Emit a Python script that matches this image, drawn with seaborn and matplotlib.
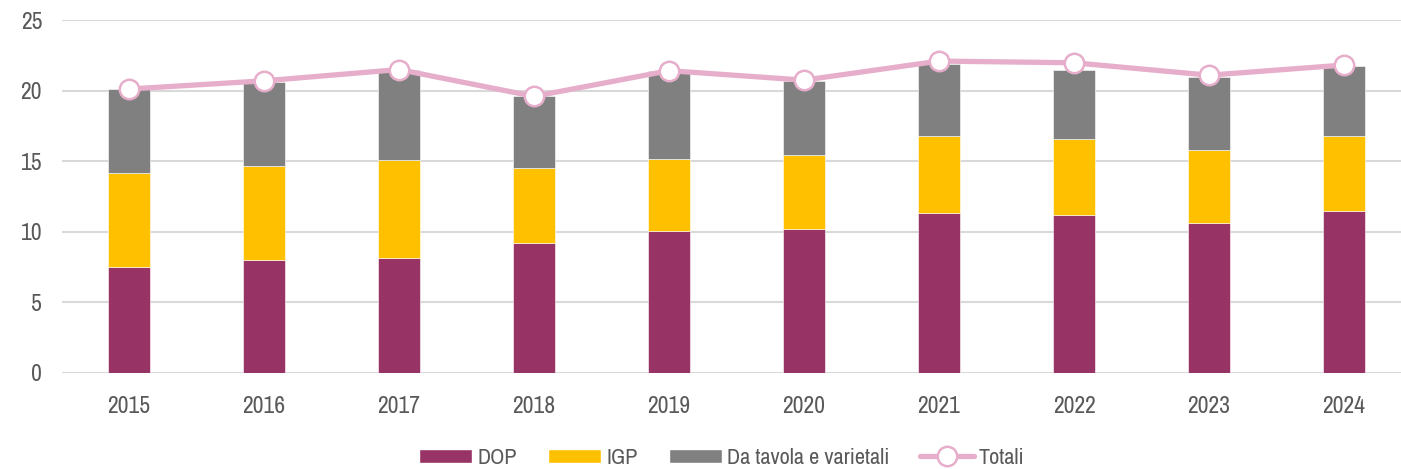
import numpy as np
import pandas as pd
import matplotlib
matplotlib.use("Agg")
import matplotlib.pyplot as plt
from matplotlib.patches import Patch
from matplotlib.lines import Line2D
import seaborn as sns

# values
years = ["2015", "2016", "2017", "2018", "2019", "2020", "2021", "2022", "2023", "2024"]
dop = [7.50, 7.99, 8.17, 9.20, 10.08, 10.18, 11.32, 11.17, 10.65, 11.48]
igp = [6.67, 6.68, 6.90, 5.30, 5.06, 5.25, 5.45, 5.41, 5.18, 5.29]
tavola = [5.93, 5.93, 6.43, 5.10, 6.25, 5.25, 5.09, 4.87, 5.17, 5.01]
totali = [20.12, 20.70, 21.50, 19.60, 21.42, 20.75, 22.10, 21.98, 21.10, 21.82]

c_dop = "#983366"
c_igp = "#FFC000"
c_tav = "#808080"
c_tot = "#E6AECB"
c_text = "#595959"

sns.set_theme(style="white")
plt.rcParams['font.family'] = ['Arial Narrow', 'Liberation Sans Narrow', 'Archivo Narrow', 'DejaVu Sans']

df = pd.DataFrame({"anno": years, "DOP": dop, "IGP": igp, "Tavola": tavola, "Totali": totali})
df["base_igp"] = df["DOP"]
df["base_tav"] = df["DOP"] + df["IGP"]

fig = plt.figure(figsize=(14.01, 4.69), dpi=100)
ax = fig.add_axes([0.0439, 0.205, 0.9636, 0.752])

bw = 0.31
sns.barplot(data=df, x="anno", y="DOP", color=c_dop, width=bw, saturation=1, ax=ax,
            edgecolor="white", linewidth=0.4, zorder=3)
sns.barplot(data=df, x="anno", y="IGP", bottom=df["base_igp"], color=c_igp, width=bw,
            saturation=1, ax=ax, edgecolor="white", linewidth=0.4, zorder=3)
sns.barplot(data=df, x="anno", y="Tavola", bottom=df["base_tav"], color=c_tav, width=bw,
            saturation=1, ax=ax, edgecolor="white", linewidth=0.4, zorder=3)
sns.pointplot(data=df, x="anno", y="Totali", color=c_tot, markers="o", linestyles="-",
              errorbar=None, ax=ax, zorder=5)
for ln in ax.lines:
    ln.set_linewidth(3.8)
    ln.set_markersize(14)
    ln.set_markerfacecolor("white")
    ln.set_markeredgecolor(c_tot)
    ln.set_markeredgewidth(1.8)
    ln.set_zorder(5)

ax.set_ylim(0, 25)
ax.set_xlim(-0.5, 9.5)
ax.set_yticks([0, 5, 10, 15, 20, 25])
ax.yaxis.grid(True, color="#D9D9D9", linewidth=1.5, zorder=0)
ax.set_axisbelow(True)
for s in ax.spines.values():
    s.set_visible(False)
ax.set_xlabel("")
ax.set_ylabel("")
ax.tick_params(axis="y", length=0, pad=14, labelsize=17, labelcolor=c_text)
ax.tick_params(axis="x", length=0, pad=17, labelsize=17, labelcolor=c_text)

handles = [
    Patch(facecolor=c_dop, label="DOP"),
    Patch(facecolor=c_igp, label="IGP"),
    Patch(facecolor=c_tav, label="Da tavola e varietali"),
    Line2D([0], [0], color=c_tot, linewidth=3.8, marker="o", markersize=14,
           markerfacecolor="white", markeredgecolor=c_tot, markeredgewidth=1.8, label="Totali"),
]
leg = fig.legend(handles=handles, loc="center", bbox_to_anchor=(0.515, 0.024), ncol=4,
                 frameon=False, fontsize=16, handlelength=2.4, handleheight=0.6,
                 columnspacing=1.4, handletextpad=0.22)
for t in leg.get_texts():
    t.set_color(c_text)

fig.savefig("out.png", dpi=100)
